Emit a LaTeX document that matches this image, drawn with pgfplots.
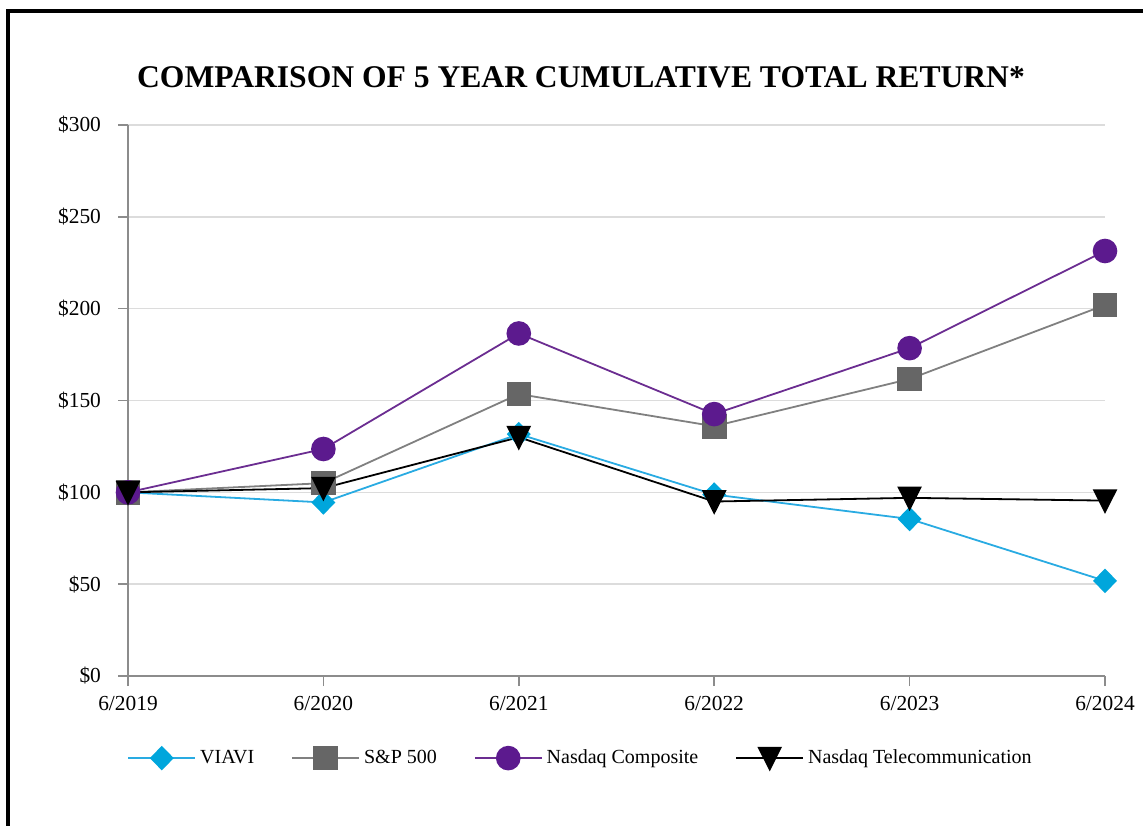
\documentclass[border=0pt]{standalone}
\usepackage{fontspec}
\setmainfont{Liberation Serif}
\usepackage{pgfplots}
\pgfplotsset{compat=1.18}
\definecolor{viavi}{HTML}{00A6DC}
\definecolor{viaviline}{HTML}{29ABE2}
\definecolor{spgray}{HTML}{666666}
\definecolor{spline}{HTML}{808080}
\definecolor{nasdaq}{HTML}{5C1A8E}
\definecolor{nasline}{HTML}{6B2D91}
\definecolor{gridc}{HTML}{DCDCDC}
\definecolor{axisc}{HTML}{8C8C8C}
\begin{document}
\begin{tikzpicture}
\useasboundingbox (0,0) rectangle (571.5pt,412.5pt);
\draw[line width=1.7pt] (4pt,-5pt) -- (4pt,407pt) -- (580pt,407pt);
\node[font=\fontsize{15.8}{18}\selectfont\bfseries] at (290.5pt,374pt) {COMPARISON OF 5 YEAR CUMULATIVE TOTAL RETURN*};
\begin{axis}[
 at={(64pt,74.5pt)}, anchor=south west,
 scale only axis, width=488.5pt, height=275.5pt,
 xmin=0, xmax=5, ymin=0, ymax=300,
 axis lines*=left,
 axis line style={axisc, line width=0.8pt},
 xtick={0,...,5},
 xticklabels={6/2019,6/2020,6/2021,6/2022,6/2023,6/2024},
 ytick={0,50,...,300},
 yticklabels={\$0,\$50,\$100,\$150,\$200,\$250,\$300},
 tick align=outside, major tick length=5pt,
 tick style={axisc, line width=0.8pt},
 ymajorgrids, grid style={gridc, line width=0.7pt},
 ticklabel style={font=\fontsize{10.7}{12}\selectfont, text=black},
 yticklabel style={xshift=-5pt},
 xticklabel style={yshift=-1.5pt},
 clip=false,
 legend columns=4,
 legend style={at={(0,-0.149)}, anchor=west, draw=none, fill=none,
   xshift=-3.5pt,
   font=\fontsize{10}{12}\selectfont,
   /tikz/every even column/.append style={column sep=16.5pt}},
 legend image code/.code={\draw[mark repeat=2,mark phase=2] plot coordinates {(0pt,0pt) (16.75pt,0pt) (33.5pt,0pt)};},
]
\addplot[viaviline, line width=0.9pt, mark=diamond*, mark size=5.5pt,
  mark options={solid, fill=viavi, draw=viavi, xscale=1.3}]
  coordinates {(0,100) (1,94.5) (2,131.7) (3,98.8) (4,85.5) (5,51.8)};
\addlegendentry{VIAVI}
\addplot[spline, line width=0.9pt, mark=square*, mark size=5.7pt,
  mark options={solid, fill=spgray, draw=spgray}]
  coordinates {(0,100) (1,105) (2,153.5) (3,136) (4,161.7) (5,202)};
\addlegendentry{S\&P 500}
\addplot[nasline, line width=0.9pt, mark=*, mark size=5.7pt,
  mark options={solid, fill=nasdaq, draw=nasdaq}]
  coordinates {(0,100) (1,123.6) (2,186.5) (3,142.6) (4,178.5) (5,231.4)};
\addlegendentry{Nasdaq Composite}
\addplot[black, line width=0.9pt, mark=triangle*, mark size=6.3pt,
  mark options={solid, fill=black, yshift=1.6pt, yscale=1.15, rotate=180}]
  coordinates {(0,100) (1,102.3) (2,130) (3,95) (4,97) (5,95.5)};
\addlegendentry{Nasdaq Telecommunication}
\end{axis}
\end{tikzpicture}
\end{document}
